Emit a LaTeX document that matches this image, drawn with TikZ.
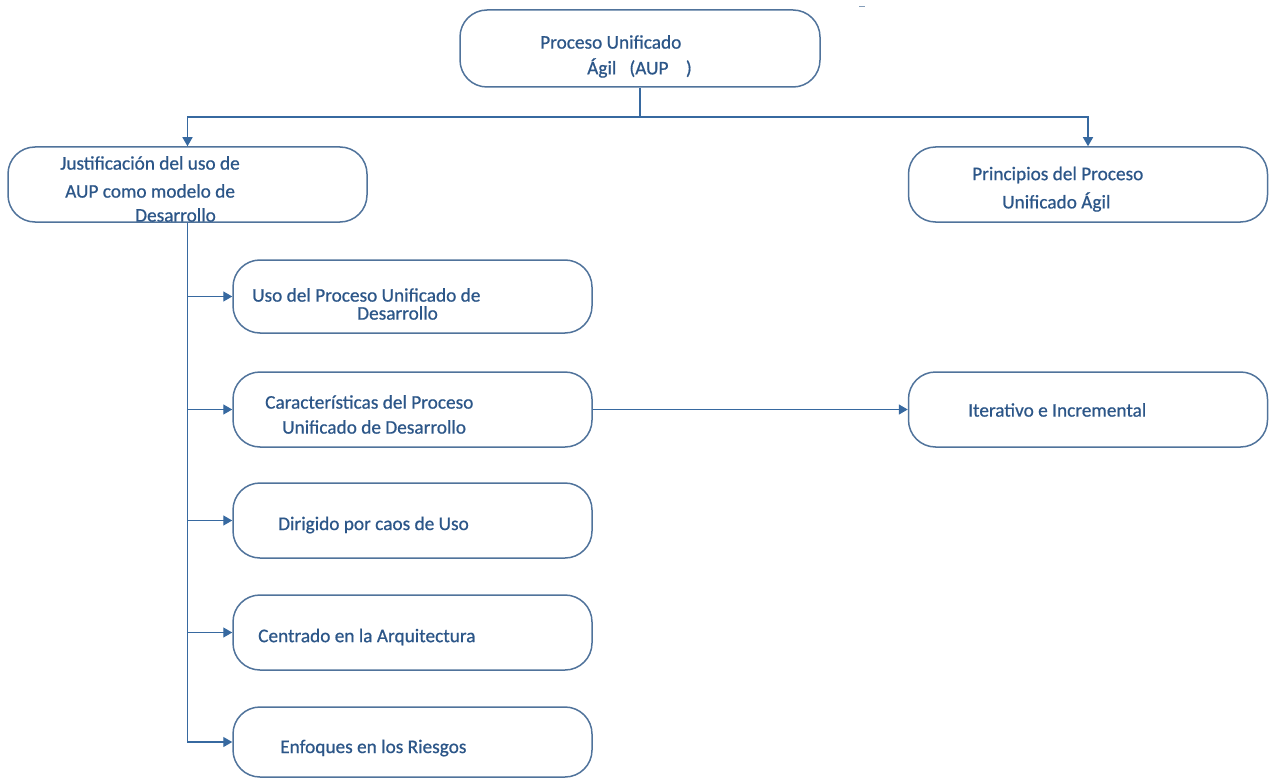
\documentclass[tikz,border=0pt]{standalone}
\usepackage{fontspec}
\setmainfont{Carlito}
\newfontfamily\lblfont[FakeBold=0.7]{Carlito}
\usetikzlibrary{arrows.meta}
\definecolor{txt}{RGB}{44,86,136}
\definecolor{bord}{RGB}{80,115,155}
\definecolor{conn}{RGB}{55,105,160}
\tikzset{
  box/.style={draw=bord, line width=1.5pt, rounded corners=27pt, minimum width=#1, inner sep=0pt},
  box/.default=359pt,
  lbl/.style={text=txt, font=\lblfont\fontsize{19.3}{22}\selectfont, anchor=west, inner sep=0pt},
  arr/.style={draw=conn, line width=1.4pt, -{Triangle[length=9pt,width=10pt]}},
  ln/.style={draw=conn, line width=1.4pt}
}
\begin{document}
\begin{tikzpicture}[x=1pt,y=-1pt]
\useasboundingbox (0,0) rectangle (1273,778);
% boxes
\node[box=360pt, minimum height=77pt] (top) at (640,48.5) {};
\node[box, minimum height=75pt] (L) at (187.5,184.5) {};
\node[box, minimum height=75pt] (R) at (1088,184.5) {};
\node[box, minimum height=73pt] (c1) at (412.5,296.5) {};
\node[box, minimum height=75pt] (c2) at (412.5,409.5) {};
\node[box, minimum height=75pt] (c3) at (412.5,520.5) {};
\node[box, minimum height=75pt] (c4) at (412.5,632.5) {};
\node[box, minimum height=70pt] (c5) at (412.5,742) {};
\node[box, minimum height=75pt] (it) at (1088,409.5) {};
% texts
\node[lbl] (t0a) at (540,42) {Proceso Unificado};
\node[lbl] (t0b) at (587,68) {Ágil\ \ \ (AUP\ \ \ \ )};
\node[lbl] (tLa) at (60,163) {Justificación del uso de};
\node[lbl] (tLb) at (65,191) {AUP como modelo de};
\node[lbl] (tLc) at (135,215) {Desarrollo};
\node[lbl] (tRa) at (972,175) {Principios del Proceso};
\node[lbl] (tRb) at (1002,202) {Unificado Ágil};
\node[lbl] (t1a) at (252,295) {Uso del Proceso Unificado de};
\node[lbl] (t1b) at (357,313) {Desarrollo};
\node[lbl] (t2a) at (265,402) {Características del Proceso};
\node[lbl] (t2b) at (282,427) {Unificado de Desarrollo};
\node[lbl] (t3) at (278,525) {Dirigido por caos de Uso};
\node[lbl] (t4) at (258,637) {Centrado en la Arquitectura};
\node[lbl] (t5) at (280,748) {Enfoques en los Riesgos};
\node[lbl] (tit) at (968,410) {Iterativo e Incremental};
% connectors
\coordinate (j) at (640,117);
\draw[ln] (top.south) -- (j);
\draw[arr] (j) -| (L.north);
\draw[arr] (j) -| (R.north);
\draw[arr] (L.south) |- (c1.west);
\draw[arr] (L.south) |- (c2.west);
\draw[arr] (L.south) |- (c3.west);
\draw[arr] (L.south) |- (c4.west);
\draw[arr] (L.south) |- (c5.west);
\draw[arr] (c2.east) -- (it.west);
% small mark at top
\draw[draw=bord!70, line width=1pt] (859,7) -- (865,7);
\end{tikzpicture}
\end{document}
